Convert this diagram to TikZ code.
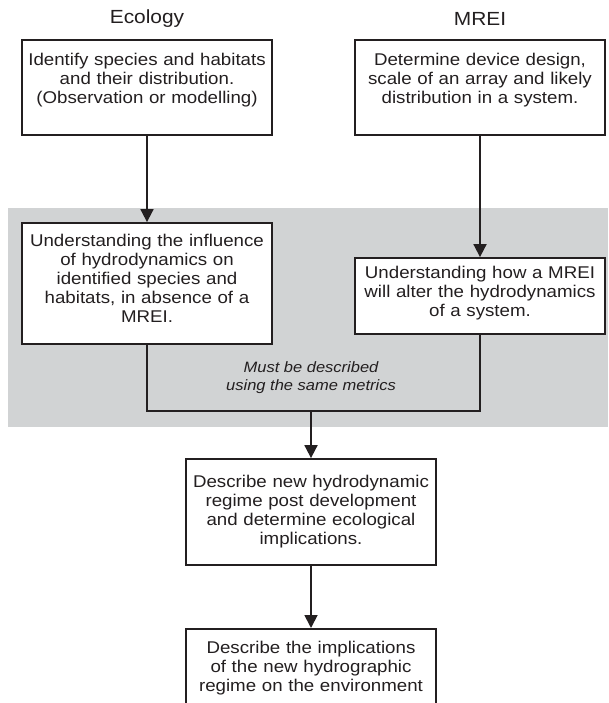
\documentclass[tikz,border=0pt]{standalone}
\usepackage{fontspec}
\setmainfont{Liberation Sans}[FakeStretch=1.1]
\usetikzlibrary{positioning,arrows.meta}

\definecolor{panelgray}{RGB}{209,211,212}
\definecolor{ink}{RGB}{35,31,32}

\begin{document}
\begin{tikzpicture}[x=1pt,y=-1pt,
  every node/.style={text=ink},
  stage/.style={draw=ink,line width=1.8pt,fill=white,minimum width=250pt,text width=246pt,inner xsep=1pt,align=center,font=\fontsize{17}{19}\selectfont},
  heading/.style={font=\fontsize{19}{21}\selectfont},
  flow/.style={draw=ink,line width=1.8pt,-{Triangle[length=13pt,width=13pt]}}]

\useasboundingbox (0,0) rectangle (608,703);
\clip (0,0) rectangle (608,703);

% shaded band
\fill[panelgray] (8,208) rectangle (608,427);

\node[heading](ecotitle) at (147,19) {Ecology};
\node[heading](mreititle) at (480,19) {MREI};

\node[stage,minimum height=95pt,text depth=56pt](eco) at (147,87.5) {Identify species and habitats\\and their distribution.\\(Observation or modelling)};
\node[stage,minimum height=95pt,text depth=56pt](mrei) at (480,87.5) {Determine device design,\\scale of an array and likely\\distribution in a system.};
\node[stage,minimum height=121pt,text depth=86pt](hydro) at (147,283.5) {Understanding the influence\\of hydrodynamics on\\identified species and\\habitats, in absence of a\\MREI.};
\node[stage,minimum height=76pt,text depth=47pt](alter) at (480,296) {Understanding how a MREI\\will alter the hydrodynamics\\of a system.};
\node[stage,minimum height=106pt](regime) at (311,512) {Describe new hydrodynamic\\regime post development\\and determine ecological\\implications.};
\node[stage,anchor=north,inner ysep=12pt,text depth=56pt](env) at (311,628) {Describe the implications\\of the new hydrographic\\regime on the environment};

\node[align=center,font=\fontsize{15}{18}\itshape](metrics) at (311,378) {Must be described\\using the same metrics};

\coordinate (joint) at (311,411);
\draw[ink,line width=1.8pt] (hydro.south) |- (joint) -| (alter.south);

\foreach \a/\b in {eco/hydro,mrei/alter,joint/regime,regime/env}
	\draw[flow](\a)--(\b);

\end{tikzpicture}
\end{document}
